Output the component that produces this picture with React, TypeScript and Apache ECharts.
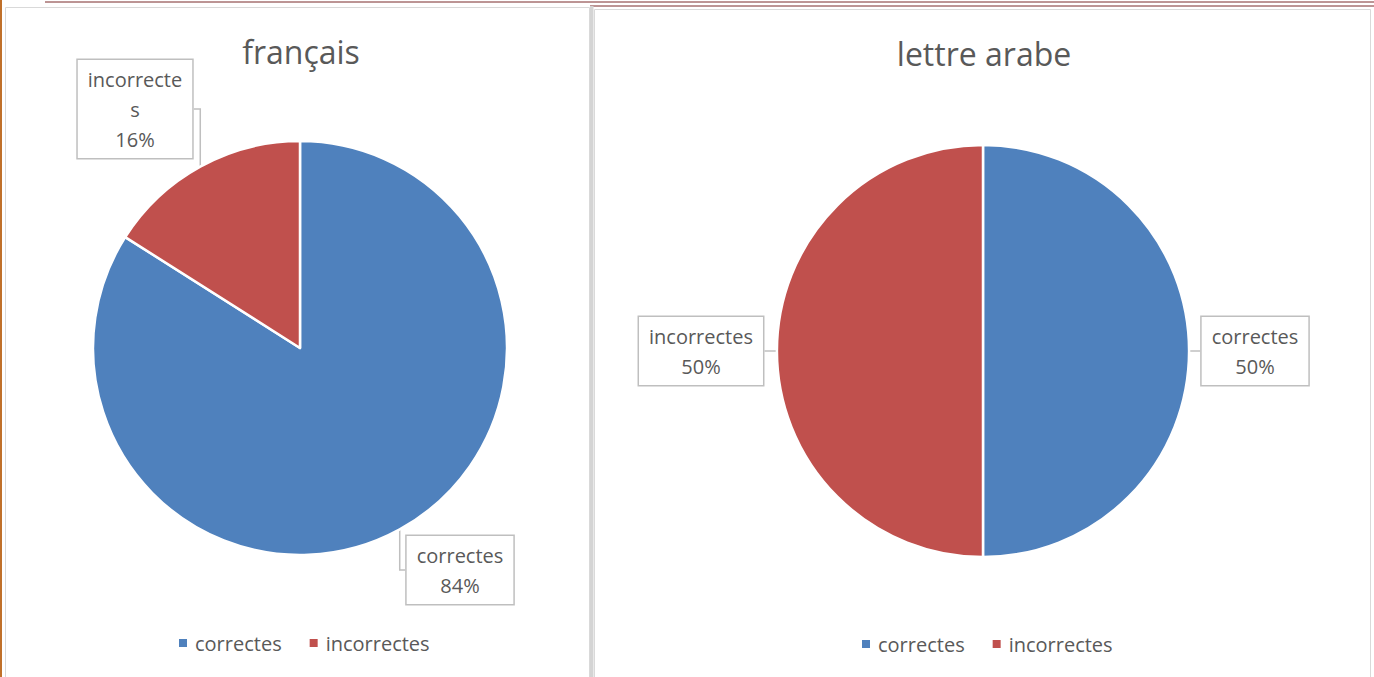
import React, { useEffect, useRef } from "react";
import * as echarts from "echarts";

const categories = ["correctes", "incorrectes"];
const francaisValues = [84, 16];
const arabeValues = [50, 50];
const chartTitles = ["français", "lettre arabe"];
const colors = ["#4F81BD", "#C0504D"];

const FONT = "'Open Sans', 'Noto Sans', sans-serif";
const TEXT_COLOR = "#595959";

// label anchor positions (centre of each callout box): [seriesIndex][dataIndex]
const labelPos = [
  [[460, 570], [135, 109]],
  [[1255, 351], [701, 351]],
];

export default function App() {
  const ref = useRef<HTMLDivElement>(null);
  useEffect(() => {
    if (!ref.current) return;
    const chart = echarts.init(ref.current, null, { renderer: "svg" });
    const labelBase = {
      show: true,
      formatter: "{b}\n{d}%",
      fontFamily: FONT,
      fontSize: 20,
      lineHeight: 30,
      color: TEXT_COLOR,
      backgroundColor: "#ffffff",
      borderColor: "#BFBFBF",
      borderWidth: 1.5,
      padding: [4, 10, 4, 10],
      align: "center",
    };
    const mkData = (vals: number[], si: number) =>
      categories.map((name, i) => {
        const item: any = { name, value: vals[i], itemStyle: { color: colors[i] } };
        if (si === 0 && i === 1) {
          item.label = {
            formatter: (p: any) =>
              `${p.name.slice(0, -1)}\n${p.name.slice(-1)}\n${p.percent}%`,
          };
        }
        return item;
      });
    const mkSeries = (vals: number[], si: number, center: number[], radius: number) => ({
      type: "pie",
      center,
      radius,
      startAngle: 90,
      clockwise: true,
      data: mkData(vals, si),
      itemStyle: { borderColor: "#ffffff", borderWidth: 2.5 },
      label: labelBase,
      labelLine: {
        show: true,
        length: 10,
        length2: 10,
        lineStyle: { color: "#BFBFBF", width: 1.5 },
      },
      labelLayout: (p: any) => {
        const pos = labelPos[si][p.dataIndex];
        return { x: pos[0], y: pos[1], align: "center", verticalAlign: "middle" };
      },
      emphasis: { disabled: true },
    });
    const legendBase = {
      orient: "horizontal",
      icon: "rect",
      itemWidth: 10,
      itemHeight: 10,
      itemGap: 26,
      data: categories,
      textStyle: { fontFamily: FONT, fontSize: 20, color: TEXT_COLOR, padding: [0, 0, 0, 2] },
      selectedMode: false,
    };
    chart.setOption({
      animation: false,
      backgroundColor: "#ffffff",
      title: [
        {
          text: chartTitles[0],
          left: 296,
          top: 30,
          textAlign: "center",
          textStyle: { fontFamily: FONT, fontSize: 32, fontWeight: "normal", color: TEXT_COLOR },
        },
        {
          text: chartTitles[1],
          left: 979,
          top: 32,
          textAlign: "center",
          textStyle: { fontFamily: FONT, fontSize: 32, fontWeight: "normal", color: TEXT_COLOR },
        },
      ],
      legend: [
        { ...legendBase, left: 172, top: 628 },
        { ...legendBase, left: 855, top: 629 },
      ],
      graphic: [
        { type: "line", shape: { x1: 45, y1: 2, x2: 1374, y2: 2 }, style: { stroke: "#7a2a2a", lineWidth: 1 } },
        { type: "line", shape: { x1: 590, y1: 6, x2: 1374, y2: 6 }, style: { stroke: "#7a2a2a", lineWidth: 1 } },
        { type: "line", shape: { x1: 1, y1: 0, x2: 1, y2: 677 }, style: { stroke: "#c0702a", lineWidth: 2 } },
        { type: "rect", shape: { x: 5.5, y: 7.5, width: 584, height: 680 }, style: { fill: "none", stroke: "#D9D9D9", lineWidth: 1 } },
        { type: "rect", shape: { x: 590, y: 6, width: 3.5, height: 680 }, style: { fill: "#D4D4D4" } },
        { type: "rect", shape: { x: 594.5, y: 9.5, width: 776, height: 680 }, style: { fill: "none", stroke: "#D9D9D9", lineWidth: 1 } },
      ],
      series: [
        mkSeries(francaisValues, 0, [300, 348], 207),
        mkSeries(arabeValues, 1, [983, 351], 206),
      ],
    });
    return () => chart.dispose();
  }, []);
  return (
    <div
      ref={ref}
      style={{ position: "fixed", left: 0, top: 0, width: 1374, height: 677 }}
    />
  );
}
